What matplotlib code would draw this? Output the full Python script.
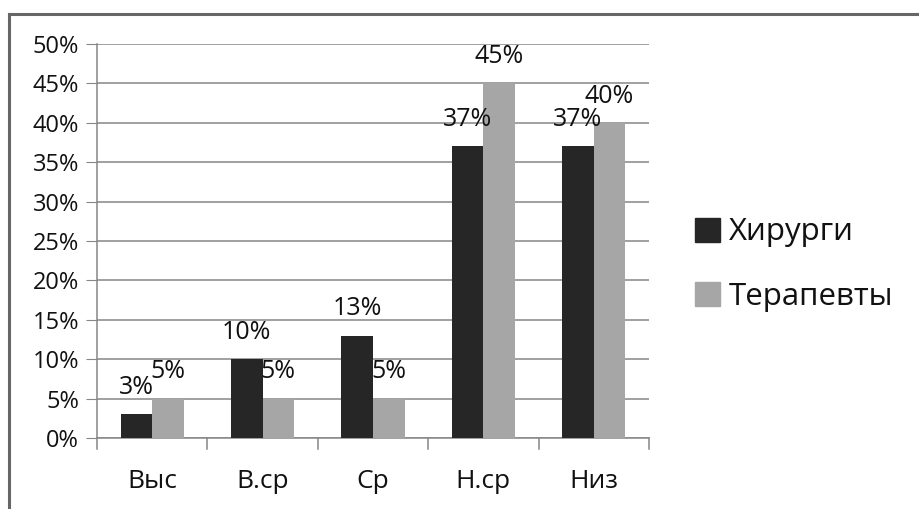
import numpy as np
import matplotlib
matplotlib.use('Agg')
import matplotlib.pyplot as plt
from matplotlib.lines import Line2D
from matplotlib.patches import Rectangle
from matplotlib.ticker import MultipleLocator, FuncFormatter

plt.rcParams['font.family'] = ['Open Sans', 'DejaVu Sans']
plt.rcParams['text.color'] = '#111111'

# data
categories = ['Выс', 'В.ср', 'Ср', 'Н.ср', 'Низ']
surgeons = [3, 10, 13, 37, 37]
therapists = [5, 5, 5, 45, 40]
series_names = ['Хирурги', 'Терапевты']
colors = ['#262626', '#a6a6a6']

fig = plt.figure(figsize=(9.19, 5.09), dpi=100)
ax = fig.add_axes([0.1055, 0.1395, 0.6006, 0.7741])

x = np.arange(len(categories))
w = 0.286
bars1 = ax.bar(x - w / 2, surgeons, w, color=colors[0], zorder=3)
bars2 = ax.bar(x + w / 2, therapists, w, color=colors[1], zorder=3)

for bars, vals in [(bars1, surgeons), (bars2, therapists)]:
    for b, v in zip(bars, vals):
        ax.annotate(f'{v}%', (b.get_x() + b.get_width() / 2, v),
                    xytext=(0, 14.5), textcoords='offset points',
                    ha='center', va='baseline', fontsize=18, color='#111111', zorder=4)

ax.set_xlim(-0.5, len(categories) - 0.5)
ax.set_ylim(0, 50)
ax.yaxis.set_major_locator(MultipleLocator(5))
ax.yaxis.set_major_formatter(FuncFormatter(lambda v, p: f'{v:.0f}%'))
ax.grid(axis='y', color='#868686', linewidth=1.1, zorder=0)

ax.set_xticks(x)
ax.set_xticklabels(categories, fontsize=19)
ax.tick_params(axis='x', length=0, pad=22, labelcolor='#111111')
ax.tick_params(axis='y', labelsize=17, length=8, color='#868686', pad=5, labelcolor='#111111')

# category boundary ticks below the axis
for b in np.arange(-0.5, len(categories)):
    ax.plot([b, b], [0, -0.028], transform=ax.get_xaxis_transform(),
            color='#868686', linewidth=1.1, clip_on=False)

for s in ['top', 'right']:
    ax.spines[s].set_visible(False)
ax.spines['left'].set_color('#868686')
ax.spines['bottom'].set_color('#868686')
ax.spines['left'].set_linewidth(1.1)
ax.spines['bottom'].set_linewidth(1.1)

# legend
handles = [Rectangle((0, 0), 1, 1, color=c) for c in colors]
fig.legend(handles, series_names, loc='center left', bbox_to_anchor=(0.732, 0.48),
           frameon=False, fontsize=22.5, handlelength=0.8, handleheight=0.8,
           handletextpad=0.3, labelspacing=1.1, borderpad=0.2)

# chart frame
fig.add_artist(Line2D([9 / 919, 1], [1 - 14 / 509, 1 - 14 / 509], color='#666666', linewidth=2.2))
fig.add_artist(Line2D([9 / 919, 9 / 919], [0, 1 - 14 / 509], color='#666666', linewidth=2.2))

fig.savefig('out.png', dpi=100)
